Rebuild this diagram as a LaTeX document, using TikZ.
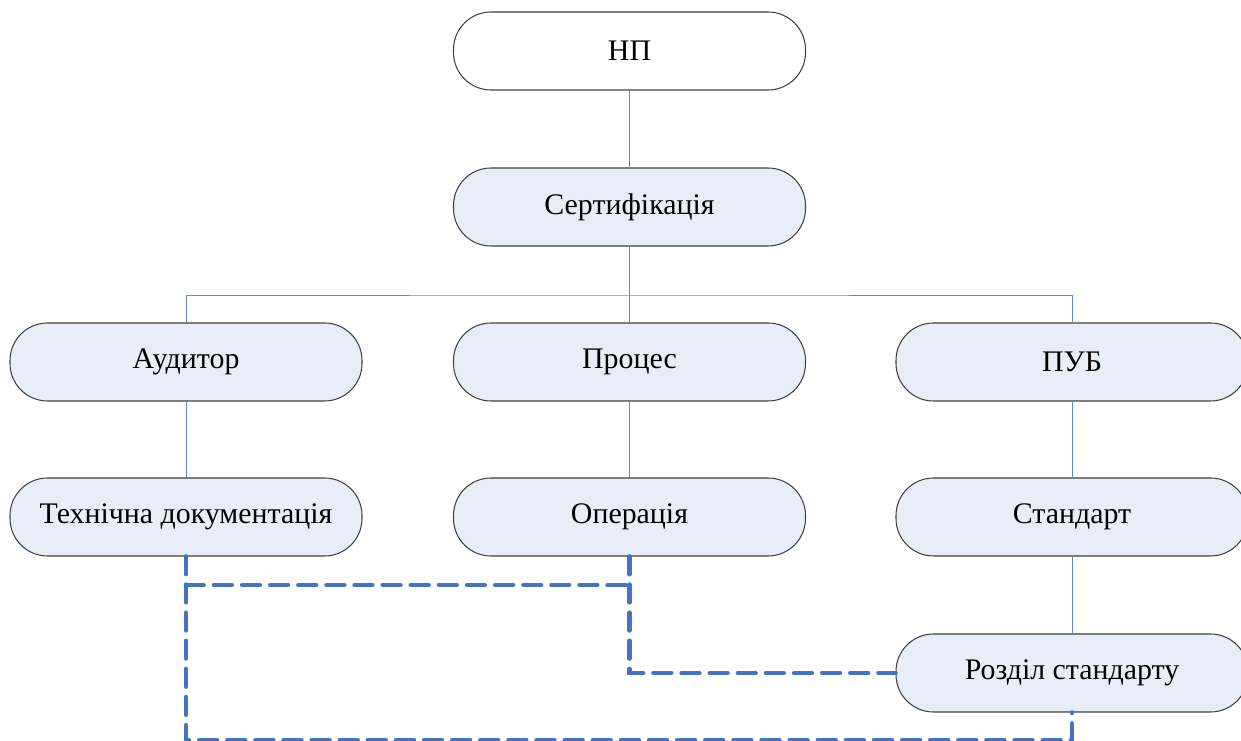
\documentclass[tikz,border=0pt]{standalone}
\usepackage{fontspec}
\setmainfont{Liberation Serif}
\usepackage{xcolor}
\usepackage{tikz}
\definecolor{boxfill}{HTML}{E8EEF7}
\definecolor{linkblue}{HTML}{5B8BD0}
\definecolor{dashblue}{HTML}{4472C4}
\tikzset{
    unit/.style={draw=black!75, line width=0.6pt, fill=boxfill, rounded corners=0.75cm,
        minimum width=7.04cm, minimum height=1.56cm,
        font=\fontsize{17}{20}\selectfont},
    link/.style={draw=linkblue, line width=0.5pt},
    cross/.style={draw=dashblue, line width=2.7pt, line cap=round,
        dash pattern=on 10pt off 6pt}
}
\begin{document}
\begin{tikzpicture}
    \useasboundingbox (0,0) rectangle (24.82,-14.82);
    \node[unit, fill=white] (np) at (12.59,-1.02) {НП};
    \node[unit] (cert) at (12.59,-4.14) {Сертифікація};
    \node[unit] (aud) at (3.72,-7.24) {Аудитор};
    \node[unit] (proc) at (12.59,-7.24) {Процес};
    \node[unit] (pub) at (21.44,-7.24) {ПУБ};
    \node[unit] (tech) at (3.72,-10.34) {Технічна документація};
    \node[unit] (oper) at (12.59,-10.34) {Операція};
    \node[unit] (std) at (21.44,-10.34) {Стандарт};
    \node[unit] (part) at (21.44,-13.46) {Розділ стандарту};
    % tree links
    \coordinate (fork) at (12.59,-5.9);
    \draw[link] (np) -- (cert);
    \draw[link] (cert) -- (fork);
    \draw[link] (aud.north) |- (fork) -| (pub.north);
    \draw[link] (proc) -- (fork);
    \draw[link] (aud) -- (tech);
    \draw[link] (proc) -- (oper);
    \draw[link] (pub) -- (std);
    \draw[link] (std) -- (part);
    % dashed cross links
    \coordinate (low) at (3.72,-14.8);
    \coordinate (mid) at (3.72,-11.7);
    \coordinate (bend) at (12.59,-11.7);
    \draw[cross] (tech.south) -- (low) -| (part.south);
    \draw[cross] (mid) -- (bend);
    \draw[cross] (oper.south) |- (part.west);
\end{tikzpicture}
\end{document}
